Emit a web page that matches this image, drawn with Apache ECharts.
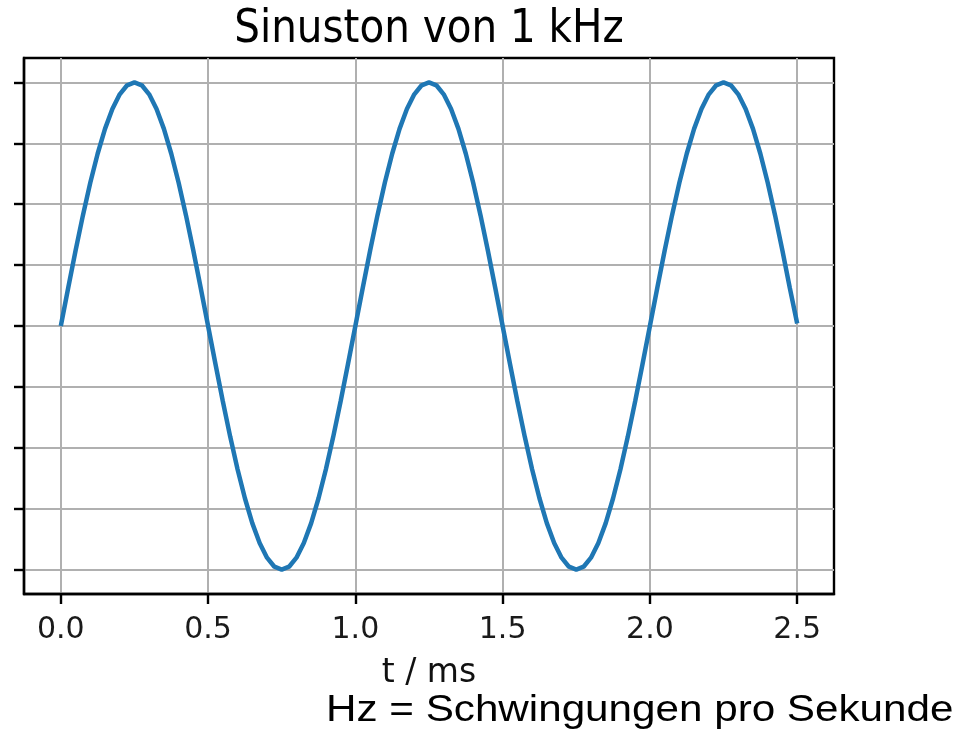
<!DOCTYPE html>
<html>
<head>
<meta charset="utf-8">
<script src="https://cdn.jsdelivr.net/npm/echarts@6/dist/echarts.min.js"></script>
<style>html,body{margin:0;padding:0;background:#fff}#c{width:973px;height:730px}</style>
</head>
<body>
<div id="c"></div>
<script>
const titleText = 'Sinuston von 1 kHz';
const xAxisName = 't / ms';
const footnote = 'Hz = Schwingungen pro Sekunde';
const xTicks = [0.0, 0.5, 1.0, 1.5, 2.0, 2.5];
const yTicks = [-1, -0.75, -0.5, -0.25, 0, 0.25, 0.5, 0.75, 1];
const tValues = [0,0.025,0.05,0.075,0.1,0.125,0.15,0.175,0.2,0.225,0.25,0.275,0.3,0.325,0.35,0.375,0.4,0.425,0.45,0.475,
  0.5,0.525,0.55,0.575,0.6,0.625,0.65,0.675,0.7,0.725,0.75,0.775,0.8,0.825,0.85,0.875,0.9,0.925,0.95,0.975,
  1.0,1.025,1.05,1.075,1.1,1.125,1.15,1.175,1.2,1.225,1.25,1.275,1.3,1.325,1.35,1.375,1.4,1.425,1.45,1.475,
  1.5,1.525,1.55,1.575,1.6,1.625,1.65,1.675,1.7,1.725,1.75,1.775,1.8,1.825,1.85,1.875,1.9,1.925,1.95,1.975,
  2.0,2.025,2.05,2.075,2.1,2.125,2.15,2.175,2.2,2.225,2.25,2.275,2.3,2.325,2.35,2.375,2.4,2.425,2.45,2.475,2.5];
const yValues = [0,0.156,0.309,0.454,0.588,0.707,0.809,0.891,0.951,0.988,1,0.988,0.951,0.891,0.809,0.707,0.588,0.454,0.309,0.156,
  0,-0.156,-0.309,-0.454,-0.588,-0.707,-0.809,-0.891,-0.951,-0.988,-1,-0.988,-0.951,-0.891,-0.809,-0.707,-0.588,-0.454,-0.309,-0.156,
  0,0.156,0.309,0.454,0.588,0.707,0.809,0.891,0.951,0.988,1,0.988,0.951,0.891,0.809,0.707,0.588,0.454,0.309,0.156,
  0,-0.156,-0.309,-0.454,-0.588,-0.707,-0.809,-0.891,-0.951,-0.988,-1,-0.988,-0.951,-0.891,-0.809,-0.707,-0.588,-0.454,-0.309,-0.156,
  0,0.156,0.309,0.454,0.588,0.707,0.809,0.891,0.951,0.988,1,0.988,0.951,0.891,0.809,0.707,0.588,0.454,0.309,0.156,0.01];

const chart = echarts.init(document.getElementById('c'), null, {renderer: 'canvas'});
const pairs = tValues.map((t, i) => [t, yValues[i]]);
chart.setOption({
  animation: false,
  backgroundColor: '#ffffff',
  graphic: [{
    type: 'text', x: 429, y: 7, scaleX: 0.88, originX: 0, originY: 0,
    style: {text: titleText, x: 0, y: 0, align: 'center', verticalAlign: 'top',
      font: 'normal 46px "DejaVu Sans"', fill: '#000'}
  }, {
    type: 'text', x: 326, y: 692, scaleX: 1.15, originX: 0, originY: 0,
    style: {text: footnote, x: 0, y: 0, align: 'left', verticalAlign: 'top',
      font: 'normal 36.7px "Liberation Sans"', fill: '#000'}
  }],
  grid: {left: 24, right: 139, top: 58, bottom: 136, show: true, borderColor: '#000', borderWidth: 2.4, backgroundColor: 'transparent'},
  xAxis: {
    type: 'value', min: -0.125, max: 2.625,
    name: xAxisName, nameLocation: 'middle', nameGap: 63,
    nameTextStyle: {fontFamily: 'DejaVu Sans', fontSize: 33, color: '#111'},
    axisLine: {show: true, onZero: false, lineStyle: {color: '#000', width: 2.4}},
    axisTick: {show: true, customValues: xTicks, length: 10, lineStyle: {color: '#000', width: 2.4}},
    axisLabel: {show: true, customValues: xTicks, margin: 21, fontFamily: 'DejaVu Sans', fontSize: 30, color: '#1a1a1a',
      formatter: v => v.toFixed(1)},
    splitLine: {show: true, lineStyle: {color: '#b0b0b0', width: 2}}
  },
  yAxis: {
    type: 'value', min: -1.1, max: 1.1,
    axisLine: {show: true, onZero: false, lineStyle: {color: '#000', width: 2.4}},
    axisTick: {show: true, customValues: yTicks, length: 10, lineStyle: {color: '#000', width: 2.4}},
    axisLabel: {show: false, customValues: yTicks},
    splitLine: {show: true, lineStyle: {color: '#b0b0b0', width: 2}}
  },
  series: [{
    type: 'line', data: pairs, smooth: false, showSymbol: false,
    lineStyle: {color: '#1f77b4', width: 4.5}, z: 3
  }]
});
</script>
</body>
</html>
